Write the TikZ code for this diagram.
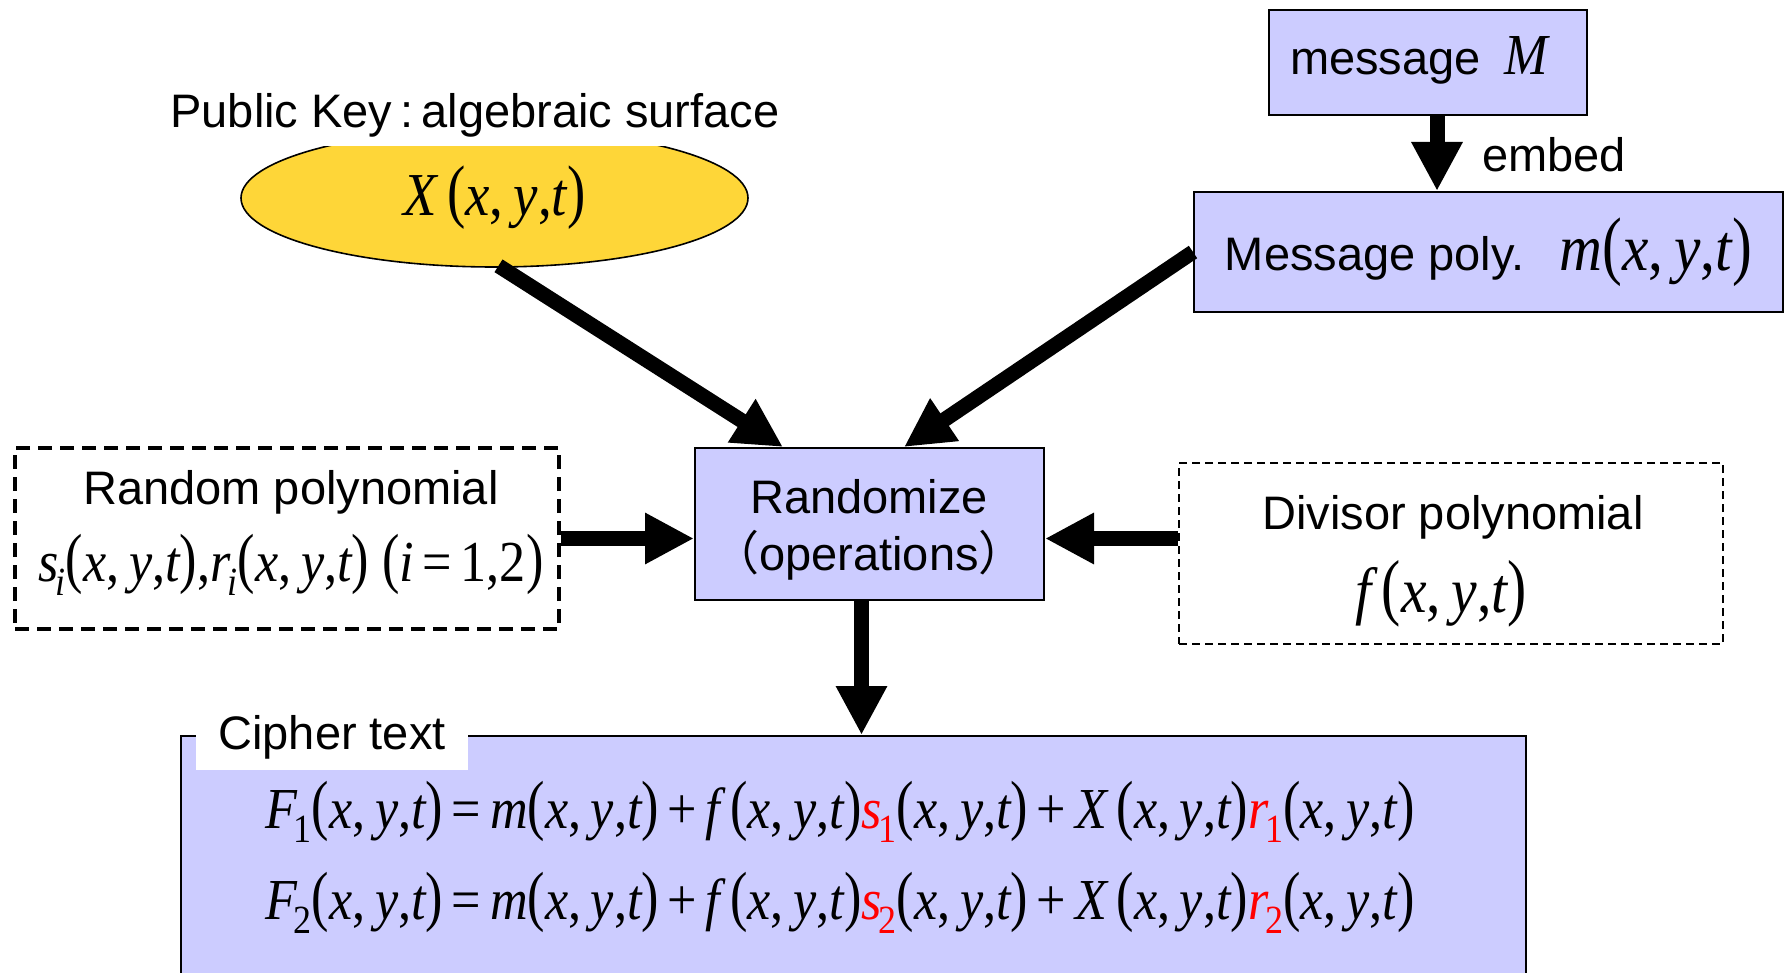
\documentclass[tikz,border=0pt]{standalone}
\usepackage{fontspec}
\usepackage{graphicx}
\setmainfont{Liberation Sans}
\newfontfamily\tmfont[FakeStretch=0.9]{Liberation Serif}
\newfontfamily\cjkfont{Noto Sans CJK SC}
\usetikzlibrary{arrows.meta,calc,shapes.geometric}

\definecolor{boxfill}{RGB}{204,204,255}
\definecolor{surffill}{RGB}{254,214,56}
\definecolor{hot}{RGB}{255,0,0}

% text and formula sizes
\newcommand\txt{\fontsize{23.5}{28.5}\selectfont}
\newcommand\mth[1][29]{\fontsize{#1}{34}\selectfont\tmfont}
\newcommand\vi[1]{{\itshape #1}}
\newcommand\sbs[2][-0.05em]{\kern#1\raisebox{-7pt}{\fontsize{20}{20}\selectfont #2}}
% tall parentheses, as a formula editor sets them
\newcommand\lpar{\raisebox{0.01em}{\scalebox{1}[1.15]{(}}}
\newcommand\rpar{\raisebox{0.01em}{\scalebox{1}[1.15]{)}}}
\newcommand\xyt{\lpar\vi{x},\,\vi{y},\vi{t}\rpar}
\newcommand\opr[1]{\hspace{0.15em}#1\hspace{0.15em}}

\tikzset{
  every node/.style={font=\txt, inner sep=0pt},
  solidbox/.style={rectangle, draw, line width=1pt, fill=boxfill},
  heavydash/.style={rectangle, draw, line width=1.75pt, dash pattern=on 7pt off 4pt},
  lightdash/.style={rectangle, draw, line width=0.75pt, dash pattern=on 4pt off 2.5pt},
  flow/.style={line width=7.5pt, -{Triangle[length=24.5pt,width=24pt]}},
  tag/.style={fill=white},
}

\begin{document}
\begin{tikzpicture}[x=0.5pt,y=-0.5pt]
\path[use as bounding box, clip] (0,0) rectangle (1788,973);
\fill[white] (0,0) rectangle (1788,973);

% public key: the algebraic surface
\node[ellipse, draw, line width=0.8pt, fill=surffill, minimum width=253.5pt, minimum height=69pt] (surf) at (494.5,198) {\raisebox{-2.5pt}{\mth[30.5]\vi{X}\,\xyt}};
\node[tag, anchor=south, inner xsep=6pt, inner ysep=4pt] (pk) at (475,146) {Public Key\hspace{0.17em}:\hspace{0.17em}algebraic surface};

% message and its polynomial
\node[solidbox, text width=138pt, align=left, inner xsep=10.5pt, text height=32.5pt, text depth=20pt] (msg) at (1428,62.5) {message\hspace{0.5em}{\mth\vi{M}}};
\node[solidbox, minimum width=294.5pt, minimum height=60pt] (mpoly) at (1488.5,252) {\raisebox{-1pt}{Message poly.\hspace{0.75em}{\mth[33]\vi{m}\xyt}}};

% randomize step
\node[solidbox, minimum width=174.5pt, minimum height=76pt] (rand) at (869.5,524) {};
\node[anchor=base] (randa) at (869,513) {Randomize};
\node[anchor=base] (randb) at (869,570) {{\cjkfont （}operations{\cjkfont ）}};

% random polynomials
\node[heavydash, minimum width=272pt, minimum height=90.5pt] (rp) at (287,538.5) {};
\node[anchor=base] (rpa) at (291,504) {Random polynomial};
\node[anchor=base] (rpb) at (291,581) {{\mth\vi{s}\sbs{\vi{i}}\xyt,\vi{r}\sbs{\vi{i}}\xyt\ \lpar\vi{i}\opr{=}1,2\rpar}};

% divisor polynomial
\node[lightdash, minimum width=272pt, minimum height=90.5pt] (div) at (1451,553.5) {};
\node[anchor=base] (diva) at (1453,529) {Divisor polynomial};
\node[anchor=base] (divb) at (1441,612) {{\mth[32]\vi{f}\,\xyt}};

% cipher text
\node[solidbox, minimum width=672.5pt, minimum height=150pt] (ct) at (853.5,886) {};
\node[tag, anchor=base, inner xsep=11pt, inner ysep=5.25pt, text height=17pt, text depth=5pt] (ctlabel) at (332,749.5) {Cipher text};
\node[anchor=base west] (f1) at (265,828) {{\mth\vi{F}\sbs[-0.06em]{1}\xyt\opr{=}\vi{m}\xyt\opr{+}\vi{f}\,\xyt\textcolor{hot}{\vi{s}\sbs{1}}\xyt\opr{+}\vi{X}\,\xyt\textcolor{hot}{\vi{r}\sbs{1}}\xyt}};
\node[anchor=base west] (f2) at (265,919) {{\mth\vi{F}\sbs[-0.06em]{2}\xyt\opr{=}\vi{m}\xyt\opr{+}\vi{f}\,\xyt\textcolor{hot}{\vi{s}\sbs{2}}\xyt\opr{+}\vi{X}\,\xyt\textcolor{hot}{\vi{r}\sbs{2}}\xyt}};

% connectors
\draw[flow] ($(surf.south)+(4,-2)$) -- ($(rand.north west)+(89,0)$);
\draw[flow] (mpoly.west) -- ($(rand.north west)+(210,0)$);
\coordinate (e1) at ($(msg.south)+(9,0)$);
\draw[flow] (e1) -- (e1 |- mpoly.north);
\node[anchor=base west] (emb) at (1482,171.5) {embed};
\draw[flow] (rp.east) -- (rp.east -| rand.west);
\draw[flow] (rp.east -| div.west) -- (rp.east -| rand.east);
\coordinate (d1) at ($(rand.south)+(-8,0)$);
\draw[flow] (d1) -- (d1 |- ct.north);
\end{tikzpicture}
\end{document}
